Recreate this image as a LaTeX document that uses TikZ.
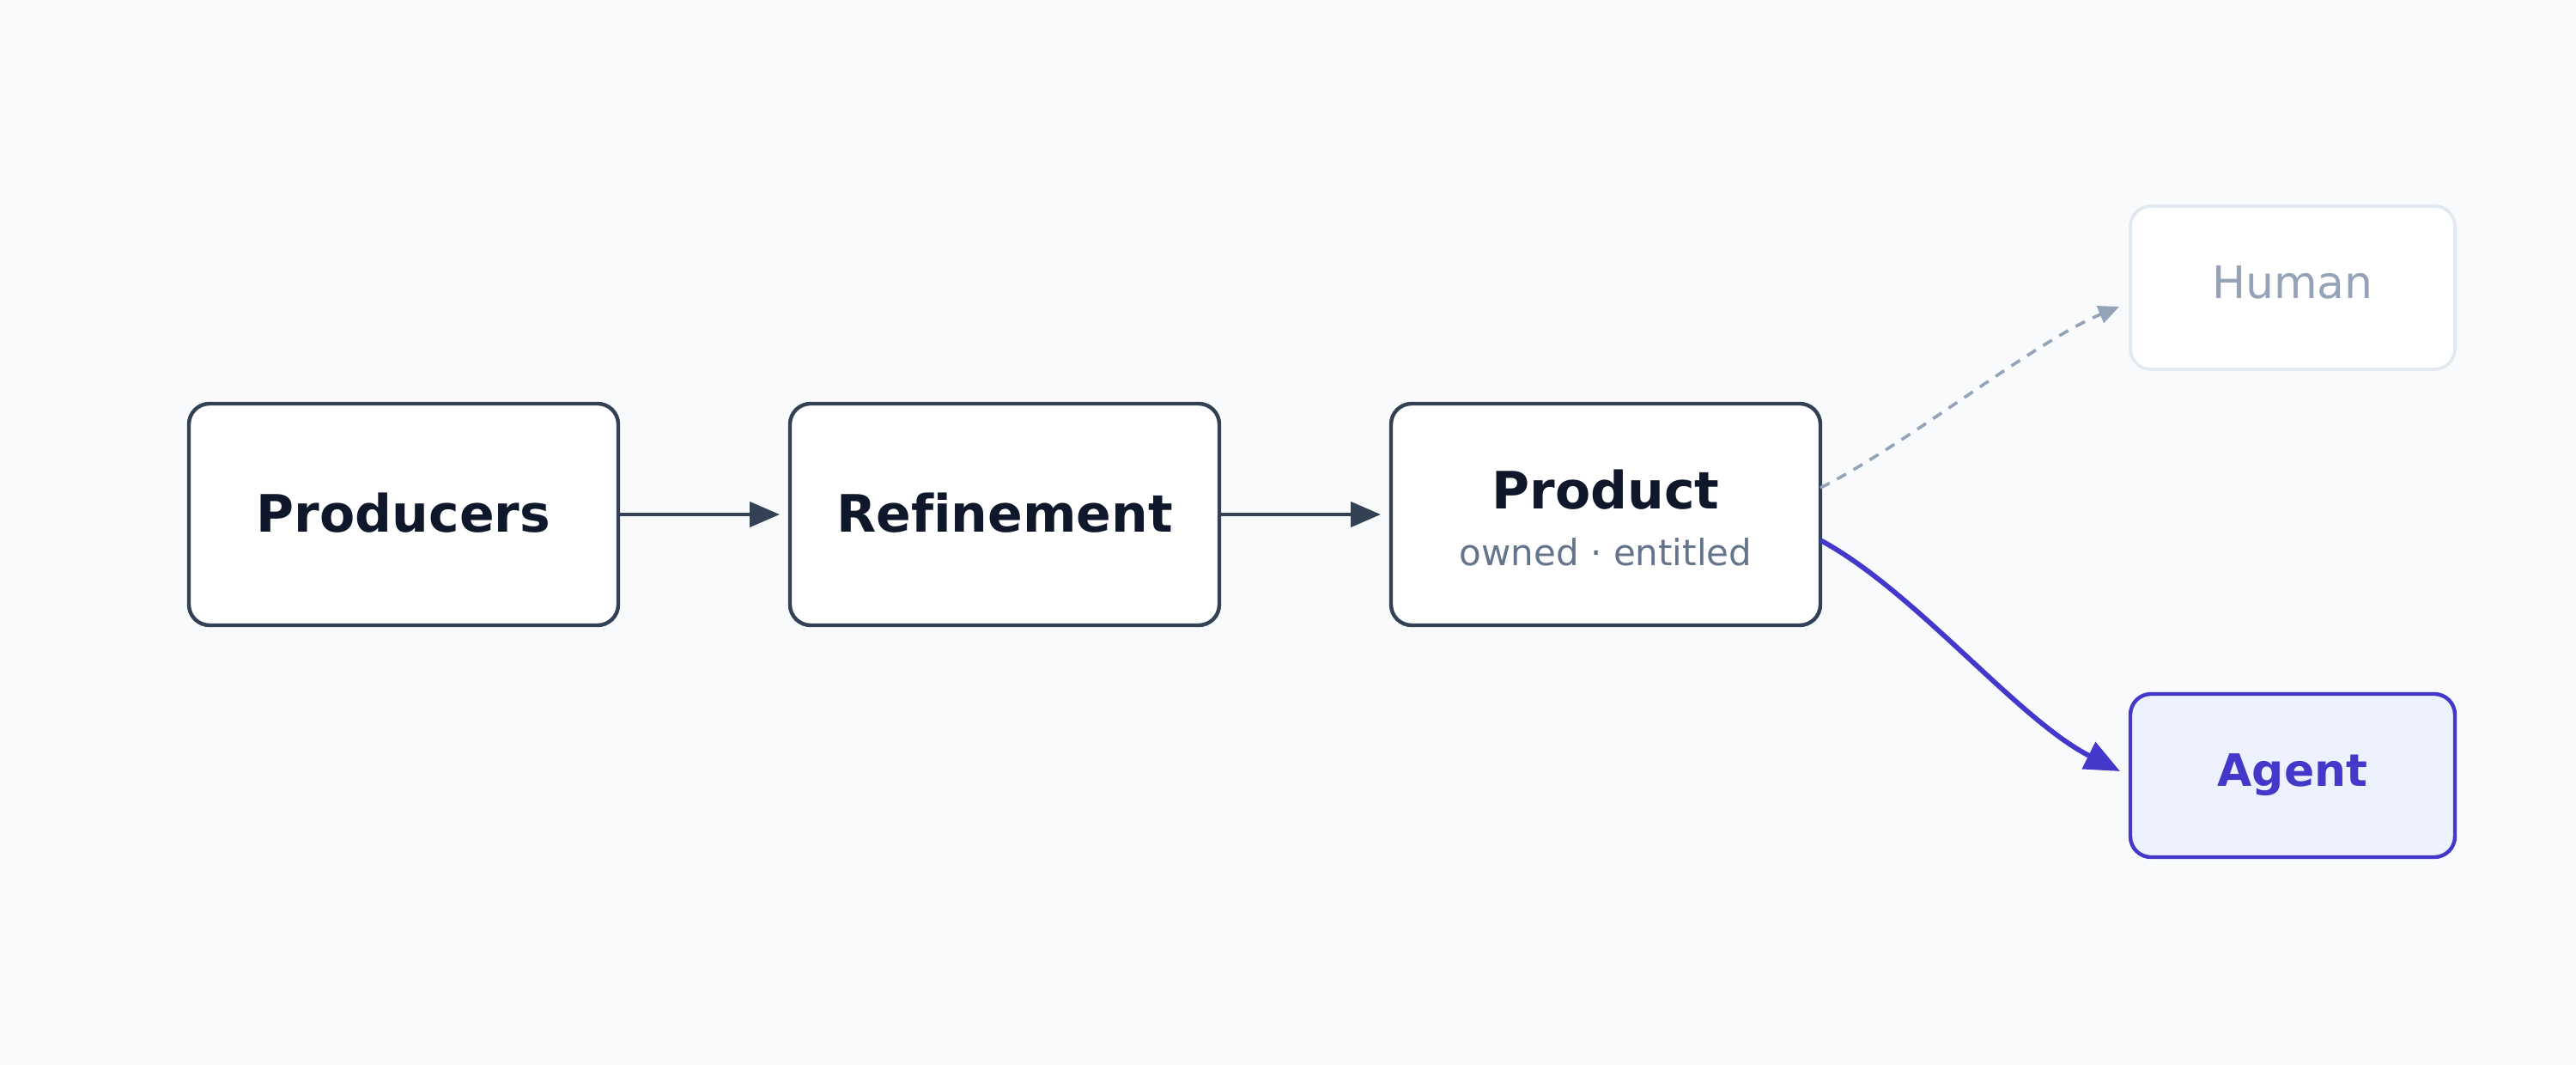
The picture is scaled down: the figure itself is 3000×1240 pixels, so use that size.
\documentclass[tikz,border=0pt]{standalone}
\usepackage{fontspec}
\setmainfont{DejaVu Sans}[Ligatures={NoCommon}]
\usetikzlibrary{arrows.meta}
\definecolor{bg}{HTML}{F8FAFC}
\definecolor{border}{HTML}{334155}
\definecolor{titlec}{HTML}{0F172A}
\definecolor{subc}{HTML}{64748B}
\definecolor{humanb}{HTML}{E2E8F0}
\definecolor{humant}{HTML}{94A3B8}
\definecolor{agentf}{HTML}{EEF2FF}
\definecolor{agentc}{HTML}{4338CA}
\begin{document}
\begin{tikzpicture}[x=0.5pt,y=-0.5pt,
  stagebox/.style={draw=border, line width=2.2pt, fill=white, rounded corners=12pt,
    minimum width=250pt, minimum height=129pt, inner sep=0pt, outer sep=0pt},
  humanbox/.style={draw=humanb, line width=1.8pt, fill=white, rounded corners=12pt,
    minimum width=189pt, minimum height=95pt, inner sep=0pt, outer sep=0pt},
  agentbox/.style={draw=agentc, line width=2.2pt, fill=agentf, rounded corners=12pt,
    minimum width=189pt, minimum height=95pt, inner sep=0pt, outer sep=0pt},
  titletext/.style={anchor=base, inner sep=0pt, text=titlec, font=\fontsize{30pt}{36pt}\selectfont\bfseries},
  subtext/.style={anchor=base, inner sep=0pt, text=subc, font=\fontsize{21pt}{25pt}\selectfont},
  humantext/.style={anchor=base, inner sep=0pt, text=humant, font=\fontsize{26pt}{31pt}\selectfont},
  agenttext/.style={anchor=base, inner sep=0pt, text=agentc, font=\fontsize{26pt}{31pt}\selectfont\bfseries},
  flow/.style={draw=border, line width=2.2pt, -{Triangle[length=17.5pt, width=14.5pt]}},
  humanflow/.style={draw=humant, line width=1.8pt, dash pattern=on 6pt off 5pt, -{Triangle[length=12pt, width=10.5pt]}},
  agentflow/.style={draw=agentc, line width=2.9pt, -{Triangle[length=20.5pt, width=17pt]}}
]
\path[fill=bg, use as bounding box] (0,0) rectangle (3000,1240);

\node[stagebox] (prod) at (470,599) {};
\node[stagebox] (refi) at (1170,599) {};
\node[stagebox] (prdt) at (1870,599) {};
\node[humanbox] (human) at (2670,335) {};
\node[agentbox] (agent) at (2670,903) {};

\node[titletext] (prodT) at (470,620) {Producers};
\node[titletext] (refiT) at (1170,620) {Refinement};
\node[titletext] (prdtT) at (1870,593) {Product};
\node[subtext] (prdtS) at (1870,659) {owned · entitled};
\node[humantext] (humanT) at (2670,348) {Human};
\node[agenttext] (agentT) at (2670,915) {Agent};

\draw[flow] (prod.east) -- ([shift={(-12,0)}]refi.west);
\draw[flow] (refi.east) -- ([shift={(-12,0)}]prdt.west);
\draw[humanflow] ([shift={(0,-31)}]prdt.east) .. controls (2220,518) and (2367,399) .. ([shift={(-13,22)}]human.west);
\draw[agentflow] ([shift={(0,30)}]prdt.east) .. controls (2230,688) and (2350,838) .. ([shift={(-12,-5)}]agent.west);
\end{tikzpicture}
\end{document}
